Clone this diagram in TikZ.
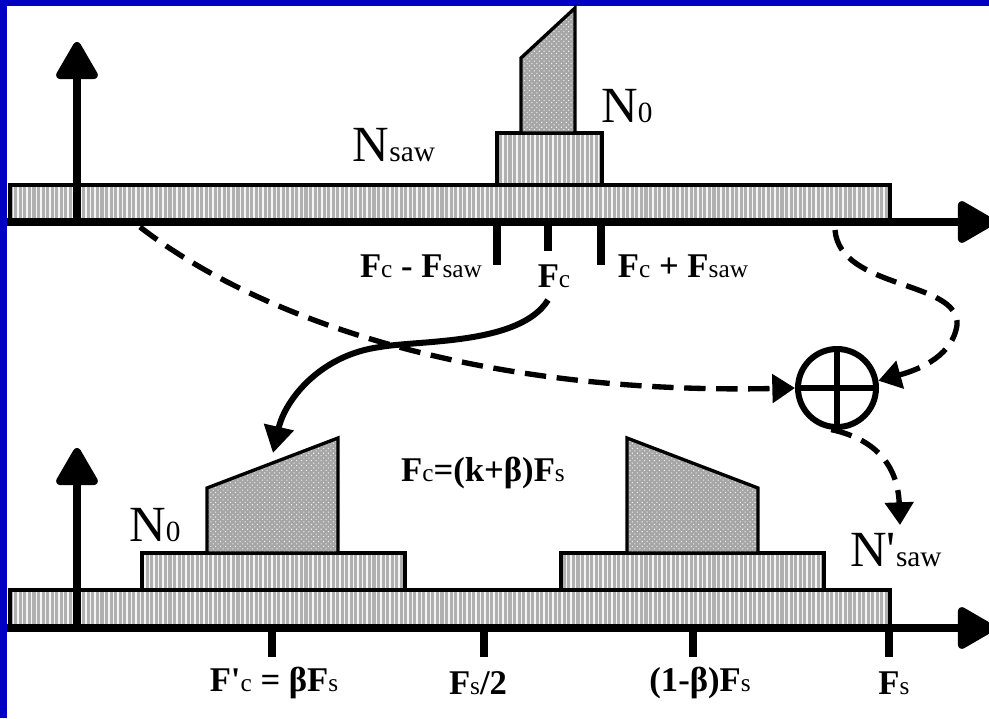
\documentclass[tikz,border=0pt]{standalone}
\usepackage{fontspec}
\setmainfont{Liberation Serif}
\usetikzlibrary{arrows.meta,patterns,patterns.meta}
\definecolor{bordblue}{RGB}{0,0,196}
\newcommand{\sbs}[1]{{\fontsize{19}{19}\selectfont\mdseries #1}}
\newcommand{\nsub}[1]{{\fontsize{22}{22}\selectfont #1}}
\tikzset{
  band/.style={draw=black,line width=2.5pt,preaction={fill=gray!62},
    pattern={Lines[angle=90,distance=3.4pt,line width=1.1pt]},pattern color=white!92!gray},
  peak/.style={draw=black,line width=2.5pt,preaction={fill=gray!70},
    pattern={Dots[distance=2.6pt,radius=0.55pt,angle=45]},pattern color=white!90!gray},
  axisline/.style={line width=6pt,-{Triangle[length=31pt,width=34pt,round]}},
  tickline/.style={line width=6pt},
  tl/.style={font=\fontsize{26}{26}\selectfont\bfseries,inner sep=0pt},
  nl/.style={font=\fontsize{38}{38}\selectfont,inner sep=0pt},
  dsh/.style={line width=4pt,dash pattern=on 16pt off 8pt,-{Triangle[length=17pt,width=21pt]}},
  sol/.style={line width=4.5pt,-{Triangle[length=20pt,width=22pt]}}
}
\begin{document}
\begin{tikzpicture}[x=0.75pt,y=-0.75pt]
\clip (0,0) rectangle (989,718);
\fill[white] (0,0) rectangle (989,718);
\fill[bordblue] (0,0) rectangle (989,6);
\fill[bordblue] (0,0) rectangle (7,718);

% ---------- top spectrum ----------
\path[band] (10,185) rectangle (890,222);
\path[band] (497,133) rectangle (602,185);
\path[peak] (521,133) -- (521,58) -- (575,8) -- (575,133) -- cycle;
\draw[axisline] (77,222) -- (77,42);
\draw[axisline] (7,222) -- (995,222);
\draw[tickline] (497,222) -- (497,265);
\draw[tickline] (548,222) -- (548,251);
\draw[tickline] (601,222) -- (601,265);

\node[nl] (nsaw) at (394,145) {N\nsub{saw}};
\node[nl] (n0a) at (627,106) {N\nsub{0}};
\node[tl] (lm) at (421,266) {F\sbs{c} - F\sbs{saw}};
\node[tl] (fcl) at (554,276) {F\sbs{c}};
\node[tl] (lp) at (683,266) {F\sbs{c} + F\sbs{saw}};

% ---------- bottom spectrum ----------
\path[band] (10,590) rectangle (890,628);
\path[band] (142,553) rectangle (405,590);
\path[band] (561,553) rectangle (824,590);
\path[peak] (207,553) -- (207,488) -- (338,438) -- (338,553) -- cycle;
\path[peak] (627,553) -- (627,438) -- (758,488) -- (758,553) -- cycle;
\draw[axisline] (77,628) -- (77,448);
\draw[axisline] (7,628) -- (995,628);
\draw[tickline] (272,628) -- (272,657);
\draw[tickline] (484,628) -- (484,657);
\draw[tickline] (693,628) -- (693,657);
\draw[tickline] (889,628) -- (889,657);

\node[nl] (n0b) at (155,525) {N\nsub{0}};
\node[nl] (nps) at (896,550) {N\textquotesingle\nsub{saw}};
\node[tl] (form) at (483,473) {F\sbs{c}=(k+β)F\sbs{s}};
\node[tl] (b1) at (274,683) {F\textquotesingle\sbs{c} = βF\sbs{s}};
\node[tl] (b2) at (478,683) {F\sbs{s}/2};
\node[tl] (b3) at (700,683) {(1-β)F\sbs{s}};
\node[tl] (b4) at (894,683) {F\sbs{s}};

% ---------- adder and connectors ----------
\node[circle,draw,line width=4.5pt,minimum size=58.5pt,inner sep=0pt] (circ) at (837,388) {};
\draw[line width=3.8pt] (circ.north) -- (circ.south);
\draw[line width=3.8pt] (circ.west) -- (circ.east);

\coordinate (s1) at (140,227);
\coordinate (s2) at (835,230);
\coordinate (t3) at (900,525);
\coordinate (s4) at (548,300);
\coordinate (t4) at (273,453);

\draw[dsh] (s1) .. controls (260,320) and (480,395) .. (circ.west);
\draw[dsh] (s2) .. controls (840,290) and (960,280) .. (957,325)
               .. controls (952,360) and (910,372) .. (circ.10);
\draw[dsh] (circ.262) .. controls (880,440) and (898,470) .. (t3);
\draw[sol] (s4) .. controls (520,345) and (420,340) .. (380,347)
               .. controls (320,355) and (285,400) .. (t4);
\end{tikzpicture}
\end{document}
